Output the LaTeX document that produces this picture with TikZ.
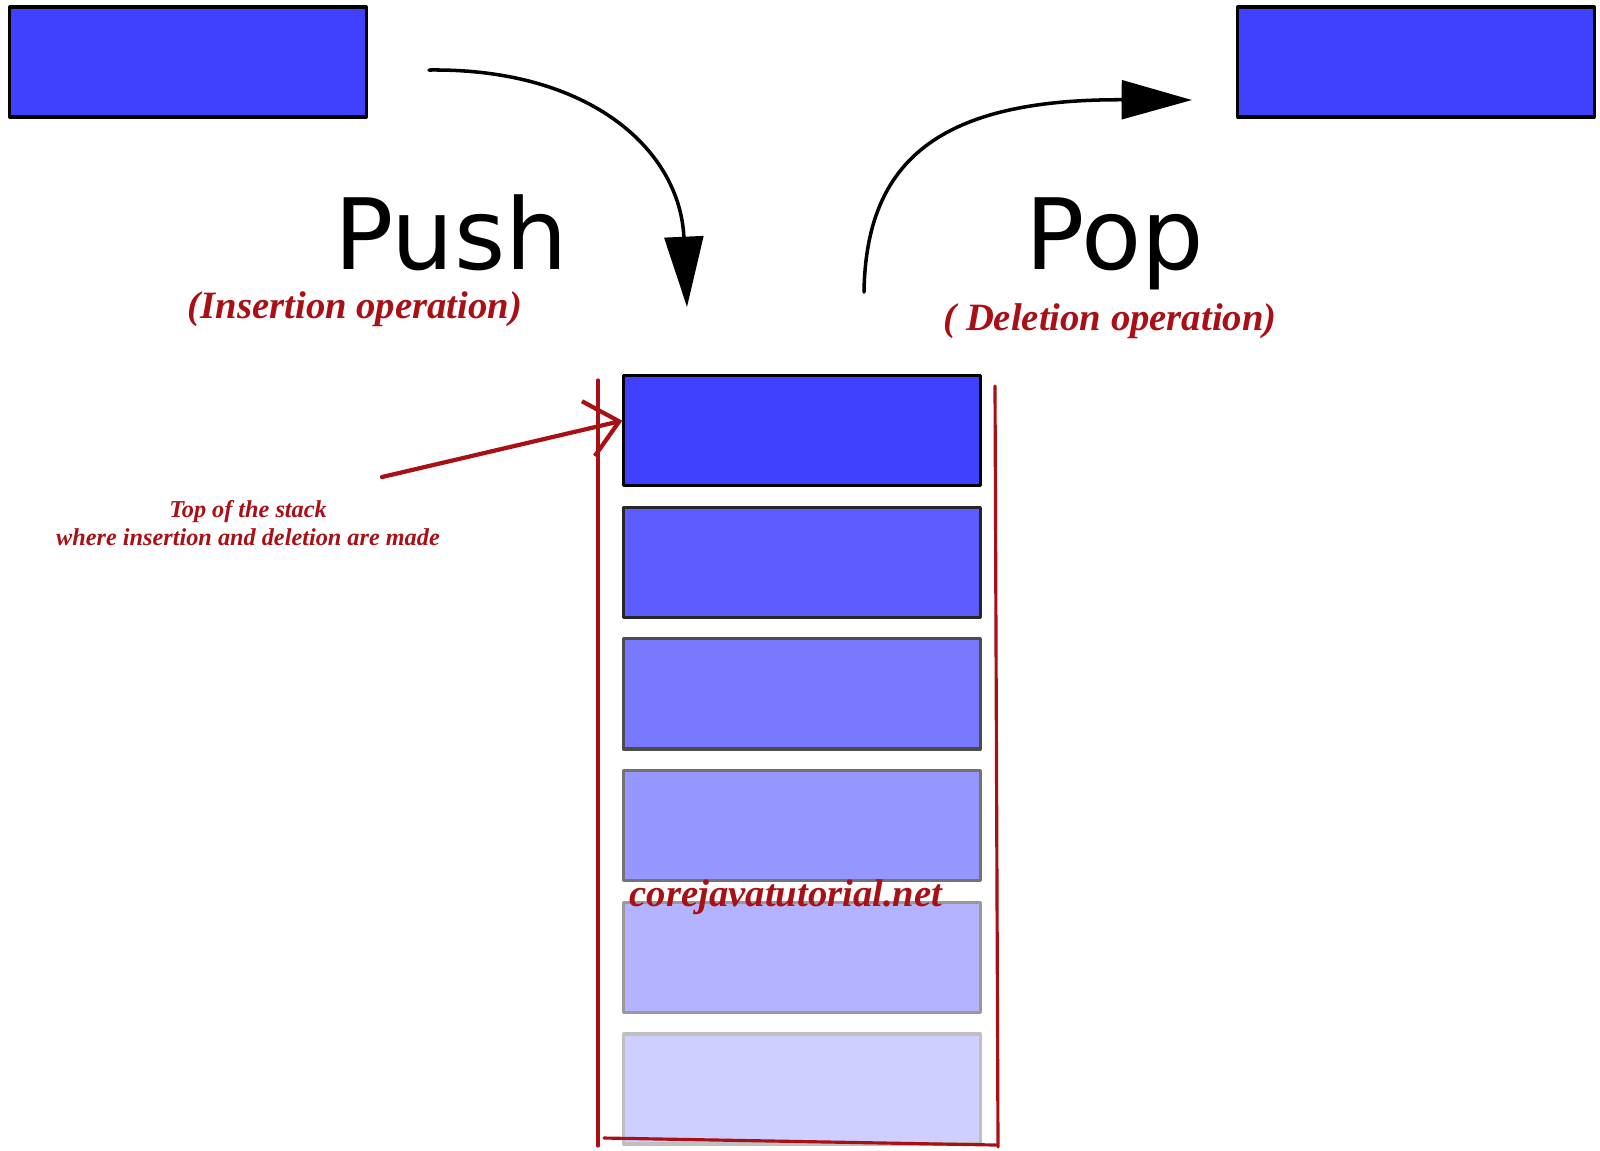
\documentclass[tikz,border=0pt]{standalone}
\usepackage{fontspec}
\setmainfont{Liberation Serif}
\newfontfamily\opfont{DejaVu Sans}
\usetikzlibrary{arrows.meta, calc, positioning}
\usepackage{xcolor}
\definecolor{boxblue}{RGB}{64,64,255}
\definecolor{notered}{RGB}{168,16,22}

\tikzset{
  block/.style={draw=black, line width=0.9pt, fill=boxblue, minimum width=3.56cm, minimum height=1.1cm, inner sep=0pt},
  optext/.style={font=\opfont\fontsize{28}{33}\selectfont, inner sep=0pt},
  redtext/.style={text=notered, font=\bfseries\itshape\fontsize{11}{13}\selectfont, inner sep=0pt},
  smallred/.style={text=notered, font=\bfseries\itshape\fontsize{6.9}{8.1}\selectfont, inner sep=0pt, align=center},
  redline/.style={draw=notered, line width=0.9pt}
}

\begin{document}
\begin{tikzpicture}[line cap=round,line join=round,>={Triangle[length=20pt,width=11pt]},x=0.01cm,y=-0.01cm]
\useasboundingbox (0,0) rectangle (1600,1150);

% Blocks outside the stack
\node [block] (inblock) at (188,62) {};
\node [block] (outblock) at (1416,62) {};

% Stack
\foreach \i/\op in {1/100,2/85,3/70,4/55,5/40,6/25}
  \node [block, draw=black!\op, fill=boxblue!\op] (stk\i) at (802,{430.5+(\i-1)*131.7}) {};

% Frame of the stack
\coordinate (fl1) at (598,380);
\coordinate (fl2) at (598,1146);
\coordinate (fr1) at (995,386);
\coordinate (fr2) at (998,1147);
\coordinate (fb1) at (604,1138);
\coordinate (fb2) at (996,1145);
\draw [redline] (fl1) -- (fl2);
\draw [redline] (fr1) -- (fr2);
\draw [redline] (fb1) -- (fb2);

% Push and Pop arrows
\coordinate (pushstart) at (429,70);
\coordinate (pushend) at (687,307);
\coordinate (popstart) at (864,292);
\coordinate (popend) at (1192,100);
\draw [->, line width=1pt] (pushstart) .. controls (590,68) and (680,150) .. (pushend);
\draw [->, line width=1pt] (popstart) .. controls (866,160) and (940,99) .. (popend);

% Labels
\node [optext, anchor=base] (pushlabel) at (451,269) {Push};
\node [optext, anchor=base] (poplabel) at (1115,269) {Pop};
\node [redtext] (pushnote) at (355,309) {(Insertion operation)};
\node [redtext] (popnote) at (1110,321) {( Deletion operation)};
\node [redtext] (site) at (786,897) {corejavatutorial.net};

% Top of the stack
\node [smallred] (topnote) at (248,523) {Top of the stack\\where insertion and deletion are made};
\coordinate (ptail) at (382,477);
\draw [redline, line width=1.2pt, -{Straight Barb[length=9pt,width=16pt]}] (ptail) -- ([yshift=2.8pt]stk1.west);
\end{tikzpicture}
\end{document}
